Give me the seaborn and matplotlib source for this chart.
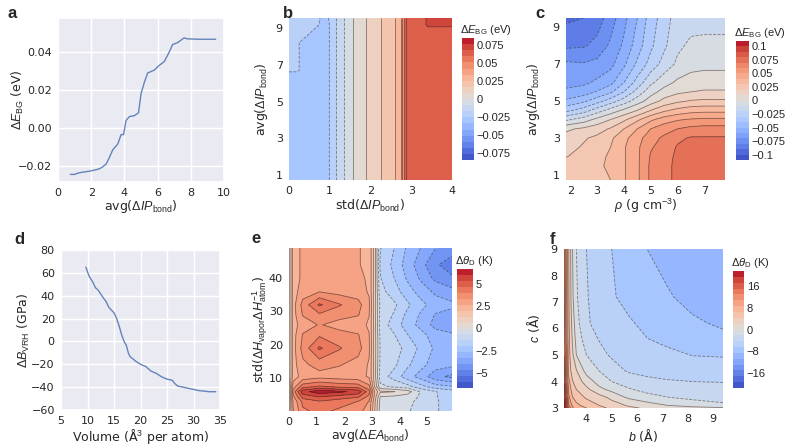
import numpy as np
import matplotlib
matplotlib.use("Agg")
import matplotlib.pyplot as plt
import seaborn as sns

# ---- panel a: line ----
a_x = [0.75, 1.0, 1.2, 1.5, 1.9, 2.3, 2.5, 2.7, 2.9, 3.1, 3.3, 3.6, 3.8, 3.95, 4.1, 4.3,
       4.6, 4.85, 5.0, 5.2, 5.4, 5.8, 6.1, 6.4, 6.7, 6.9, 7.2, 7.6, 7.8, 8.5, 9.5]
a_y = [-0.0245, -0.0245, -0.0238, -0.0233, -0.0228, -0.022, -0.0215, -0.0205, -0.019,
       -0.0155, -0.0115, -0.0085, -0.0035, -0.0035, 0.004, 0.006, 0.0065, 0.008, 0.018,
       0.024, 0.029, 0.0305, 0.033, 0.035, 0.040, 0.044, 0.045, 0.0475, 0.047, 0.0468, 0.0468]

# ---- panel d: line ----
d_x = [9.7, 10.3, 11, 11.5, 12, 13, 13.5, 14, 15, 15.5, 16, 16.5, 17, 17.3, 17.7, 18, 19,
       20, 21, 22, 23, 24, 25, 26, 26.5, 27, 28, 29, 30, 31, 32, 33, 34.2]
d_y = [65, 57, 52, 47, 45, 38, 35, 30, 25, 20, 13, 5, -1, -3, -10, -13, -17, -20, -22, -26,
       -28, -31, -33, -34, -37, -39, -40, -41, -42, -43, -43.5, -44, -44]

# ---- panel b: std(dIP) x avg(dIP) grid ----
b_x = [0, 0.2, 0.45, 0.7, 0.9, 1.07, 1.24, 1.44, 1.72, 2.05, 2.45, 2.72, 2.88, 3.25, 3.4, 4.0]
b_y = [0.73, 6.3, 6.7, 8.2, 8.7, 9.2, 9.55]
b_z = [
    [-0.030, -0.030, -0.030, -0.030, -0.030, -0.021, -0.0126, -0.0042, 0.0042, 0.0126, 0.021, 0.029, 0.062, 0.062, 0.062, 0.062],
    [-0.030, -0.030, -0.030, -0.030, -0.030, -0.021, -0.0126, -0.0042, 0.0042, 0.0126, 0.021, 0.029, 0.062, 0.062, 0.062, 0.062],
    [-0.024, -0.024, -0.030, -0.030, -0.030, -0.021, -0.0126, -0.0042, 0.0042, 0.0126, 0.021, 0.029, 0.062, 0.062, 0.062, 0.062],
    [-0.024, -0.024, -0.030, -0.030, -0.030, -0.021, -0.0126, -0.0042, 0.0042, 0.0126, 0.021, 0.029, 0.062, 0.062, 0.062, 0.062],
    [-0.024, -0.024, -0.024, -0.030, -0.030, -0.021, -0.0126, -0.0042, 0.0042, 0.0126, 0.021, 0.029, 0.062, 0.062, 0.062, 0.062],
    [-0.024, -0.024, -0.024, -0.024, -0.030, -0.021, -0.0126, -0.0042, 0.0042, 0.0126, 0.021, 0.029, 0.062, 0.062, 0.069, 0.069],
    [-0.024, -0.024, -0.024, -0.024, -0.028, -0.021, -0.0126, -0.0042, 0.0042, 0.0126, 0.021, 0.029, 0.062, 0.062, 0.069, 0.069],
]

# ---- panel c: rho x avg(dIP) grid ----
c_x = [1.84, 2.5, 3.0, 3.5, 4.0, 4.5, 5.0, 5.5, 6.0, 6.5, 7.0, 7.77]
c_y = [0.73, 1.5, 2.0, 2.5, 3.0, 3.5, 4.0, 4.5, 5.0, 5.5, 6.0, 7.0, 8.0, 9.5]
c_z = [
    [0.028, 0.028, 0.029, 0.030, 0.039, 0.048, 0.062, 0.066, 0.073, 0.075, 0.075, 0.075],
    [0.026, 0.028, 0.029, 0.031, 0.039, 0.048, 0.062, 0.066, 0.073, 0.075, 0.075, 0.075],
    [0.0195, 0.024, 0.028, 0.031, 0.039, 0.048, 0.061, 0.066, 0.072, 0.075, 0.075, 0.075],
    [0.017, 0.021, 0.025, 0.030, 0.039, 0.048, 0.059, 0.064, 0.071, 0.074, 0.075, 0.075],
    [0.014, 0.019, 0.022, 0.028, 0.037, 0.046, 0.056, 0.062, 0.068, 0.071, 0.071, 0.071],
    [0.008, 0.012, 0.016, 0.021, 0.030, 0.040, 0.050, 0.056, 0.060, 0.063, 0.064, 0.064],
    [-0.012, -0.005, 0.003, 0.010, 0.018, 0.028, 0.038, 0.045, 0.049, 0.051, 0.052, 0.052],
    [-0.033, -0.025, -0.015, -0.006, 0.002, 0.010, 0.020, 0.028, 0.033, 0.036, 0.037, 0.037],
    [-0.048, -0.042, -0.034, -0.025, -0.015, -0.005, 0.005, 0.013, 0.018, 0.021, 0.022, 0.022],
    [-0.058, -0.055, -0.049, -0.042, -0.030, -0.016, -0.004, 0.004, 0.008, 0.010, 0.011, 0.011],
    [-0.063, -0.062, -0.058, -0.053, -0.040, -0.026, -0.012, -0.004, 0.002, 0.005, 0.006, 0.006],
    [-0.068, -0.069, -0.067, -0.063, -0.052, -0.038, -0.026, -0.016, -0.008, -0.004, -0.003, -0.003],
    [-0.082, -0.081, -0.077, -0.068, -0.058, -0.045, -0.032, -0.022, -0.012, -0.008, -0.008, -0.008],
    [-0.092, -0.090, -0.085, -0.075, -0.063, -0.050, -0.035, -0.025, -0.015, -0.014, -0.013, -0.013],
]

# ---- panel e: avg(dEA) x std(dH) grid ----
e_x = [0, 0.15, 0.5, 1.1, 1.8, 2.5, 2.9, 3.1, 3.3, 3.8, 4.3, 4.8, 5.3, 5.9]
e_y = [0.2, 3, 4.5, 6, 7.5, 10.5, 14, 19, 23, 26, 29, 32, 36, 40, 44, 49]
e_z = [
    [0.3, 2.6, 3.9, 4.2, 3.9, 3.6, 3.0, 1.4, -0.3, -0.4, -0.6, -1.0, -1.3, -1.5],
    [0.3, 2.8, 4.2, 4.6, 4.3, 4.0, 3.3, 1.5, -0.2, -0.3, -0.5, -0.9, -1.3, -1.5],
    [0.4, 3.2, 5.0, 5.4, 5.1, 4.8, 3.8, 1.8, 0.0, -0.1, -0.3, -0.8, -1.3, -1.6],
    [0.5, 3.6, 5.8, 6.4, 6.2, 5.8, 4.3, 2.0, 0.8, 0.7, 0.3, -0.8, -1.3, -1.7],
    [0.4, 3.0, 4.4, 4.8, 4.5, 4.4, 3.5, 1.3, -0.5, -0.8, -1.1, -1.8, -2.4, -2.6],
    [0.3, 2.4, 2.9, 3.1, 3.0, 2.9, 2.6, 1.0, -1.0, -1.6, -2.4, -3.0, -3.8, -4.2],
    [0.3, 2.4, 3.2, 3.6, 3.4, 3.1, 2.6, 1.0, -0.8, -1.2, -1.9, -2.5, -3.0, -3.2],
    [0.3, 2.4, 3.6, 4.8, 4.1, 3.6, 2.8, 1.0, -0.7, -1.0, -1.6, -2.2, -2.8, -3.0],
    [0.3, 2.4, 3.4, 3.9, 3.6, 3.4, 2.7, 1.0, -0.8, -1.3, -2.0, -2.5, -3.0, -3.2],
    [0.3, 2.4, 3.0, 3.4, 3.1, 2.9, 2.6, 1.0, -1.0, -1.6, -2.4, -2.9, -3.6, -4.0],
    [0.3, 2.4, 3.4, 3.9, 3.6, 3.4, 2.7, 1.0, -0.9, -1.4, -2.2, -2.8, -3.4, -3.6],
    [0.3, 2.4, 3.6, 4.8, 4.1, 3.6, 2.8, 1.0, -0.8, -1.2, -1.9, -2.5, -3.0, -3.2],
    [0.3, 2.4, 3.0, 3.3, 3.1, 3.0, 2.6, 1.0, -1.1, -1.7, -2.4, -3.0, -3.5, -3.8],
    [0.3, 2.4, 2.8, 2.9, 2.8, 2.8, 2.6, 1.0, -1.3, -2.0, -2.8, -3.5, -4.2, -4.6],
    [0.3, 2.4, 2.8, 3.0, 2.8, 2.7, 2.6, 1.0, -1.4, -2.2, -3.0, -3.8, -4.6, -5.0],
    [0.3, 2.4, 2.8, 2.9, 2.8, 2.7, 2.6, 1.0, -1.3, -2.0, -2.8, -3.4, -4.0, -4.4],
]

# ---- panel f: b x c grid ----
f_x = [3.11, 3.2, 3.3, 3.45, 3.6, 4.0, 4.5, 5.0, 5.7, 6.4, 7.2, 8.2, 9.41]
f_y = [3.0, 3.1, 3.2, 3.4, 3.7, 4.0, 4.4, 5.0, 5.6, 6.2, 7.2, 9.0]
f_z = [
    [21, 17, 12, 9, 7.5, 6.45, 5.0, 3.8, 2.6, 1.8, 1.0, 0.5, 0.2],
    [20.5, 16, 11, 8, 7, 5.5, 4.3, 3.2, 1.8, 0.8, 0.0, -0.6, -1.0],
    [20, 15.5, 10, 7.5, 6.5, 5.0, 3.8, 2.6, 1.4, 0.2, -0.9, -1.7, -2.15],
    [19, 14.5, 9, 6.5, 5.5, 4.0, 3.0, 1.6, -0.5, -1.5, -2.1, -2.5, -2.8],
    [18, 13, 8, 5.2, 4.3, 2.7, 0.6, -0.6, -2.0, -2.7, -3.1, -3.4, -3.6],
    [17, 12, 7, 4.4, 3.3, 1.2, -0.9, -2.15, -3.0, -3.7, -4.1, -4.3, -4.4],
    [16, 11, 5.5, 3.2, 2.3, -0.8, -2.15, -3.3, -4.6, -5.0, -5.2, -5.4, -5.5],
    [15, 10.5, 5.0, 2.5, 0.0, -2.15, -3.6, -4.6, -5.2, -5.7, -6.0, -6.5, -6.6],
    [14.5, 10, 4.8, 1.8, -0.8, -3.2, -4.4, -5.0, -5.8, -6.4, -6.9, -7.6, -8.1],
    [14, 9.6, 4.6, 1.2, -1.4, -4.0, -5.0, -5.6, -6.2, -7.0, -7.6, -8.3, -8.9],
    [13.5, 9.3, 4.5, 0.3, -1.9, -4.1, -5.5, -6.2, -7.2, -7.8, -8.4, -9.2, -9.7],
    [13, 8.5, 4.3, 0.0, -2.15, -4.3, -5.4, -6.45, -7.6, -8.6, -9.3, -9.9, -10.2],
]

W, H = 788, 447
TICK = 8
LABEL = 9

sns.set_theme(style="darkgrid", rc={"xtick.labelsize": TICK, "ytick.labelsize": TICK,
                                     "axes.labelsize": LABEL})
plt.rcParams["font.family"] = ["Liberation Sans", "DejaVu Sans"]
plt.rcParams["mathtext.fontset"] = "custom"
plt.rcParams["mathtext.rm"] = "Liberation Sans"
plt.rcParams["mathtext.it"] = "Liberation Sans:italic"
plt.rcParams["mathtext.bf"] = "Liberation Sans:bold"

fig = plt.figure(figsize=(W / 100, H / 100), dpi=100)


def rect(l, t, r, b):
    return [l / W, 1 - b / H, (r - l) / W, (b - t) / H]


def fmt(v):
    return f"{v:g}".replace("-", "\u2212")


def place_labels(ax, box, xlab, ylab, ylab_x, xlab_y):
    # label centres given in figure pixels
    l, t, r, b = box
    ax.set_xlabel(xlab, va="center")
    ax.set_ylabel(ylab, va="center")
    ax.xaxis.set_label_coords(0.5, 1 - (xlab_y - t) / (b - t))
    ax.yaxis.set_label_coords((ylab_x - l) / (r - l), 0.5)


def line_panel(box, x, y):
    with sns.axes_style("darkgrid"):
        ax = fig.add_axes(rect(*box))
    sns.lineplot(x=x, y=y, ax=ax, color="#4C72B0", lw=1, alpha=0.85)
    ax.tick_params(length=0, pad=4.5)
    return ax


def contour_panel(box, cbox, x, y, z, levels, ticks, title):
    with sns.axes_style("white"):
        ax = fig.add_axes(rect(*box))
    X, Y = np.meshgrid(x, y)
    Z = np.array(z)
    cs = ax.contourf(X, Y, Z, levels=levels, cmap="coolwarm",
                     vmin=levels[0], vmax=levels[-1])
    ax.contour(X, Y, Z, levels=levels, colors="k", linewidths=0.6, alpha=0.5)
    for s in ax.spines.values():
        s.set_visible(False)
    ax.tick_params(length=0, pad=4.5)
    cax = fig.add_axes(rect(*cbox))
    cb = fig.colorbar(cs, cax=cax)
    cb.outline.set_visible(False)
    cb.set_ticks(ticks, labels=[fmt(t) for t in ticks])
    cax.tick_params(length=0, pad=2, labelsize=TICK)
    fig.text((cbox[0] - 2) / W, 1 - (cbox[1] - 1) / H, title, ha="left", va="bottom",
             fontsize=TICK)
    return ax


# a
box_a = (58, 18, 224, 182)
ax = line_panel(box_a, a_x, a_y)
ax.set_xlim(0, 10)
ax.set_xticks([0, 2, 4, 6, 8, 10])
ax.set_ylim(-0.0285, 0.058)
ax.set_yticks([-0.02, 0.0, 0.02, 0.04])
place_labels(ax, box_a, r"avg($\Delta IP_{\rm bond}$)", r"$\Delta E_{\rm BG}$ (eV)", 18, 207)

# d
box_d = (61, 250, 220, 410)
ax = line_panel(box_d, d_x, d_y)
ax.set_xlim(5, 35)
ax.set_xticks(range(5, 36, 5))
ax.set_ylim(-60, 80)
ax.set_yticks(range(-60, 81, 20))
place_labels(ax, box_d, "Volume (Å$^3$ per atom)", r"$\Delta B_{\rm VRH}$ (GPa)", 24, 437)

# b
box_b = (289, 18, 452, 180)
b_levels = np.round(np.linspace(-0.084, 0.084, 21), 6)
ax = contour_panel(box_b, (462, 38, 474, 160), b_x, b_y, b_z, b_levels,
                   [-0.075, -0.05, -0.025, 0, 0.025, 0.05, 0.075],
                   r"$\Delta E_{\rm BG}$ (eV)")
ax.set_xticks([0, 1, 2, 3, 4])
ax.set_yticks([1, 3, 5, 7, 9])
place_labels(ax, box_b, r"std($\Delta IP_{\rm bond}$)", r"avg($\Delta IP_{\rm bond}$)", 262, 206)

# c
box_c = (566, 18, 725, 180)
c_levels = np.round(np.linspace(-0.11, 0.11, 23), 6)
ax = contour_panel(box_c, (736, 41, 749, 160), c_x, c_y, c_z, c_levels,
                   [-0.1, -0.075, -0.05, -0.025, 0, 0.025, 0.05, 0.075, 0.1],
                   r"$\Delta E_{\rm BG}$ (eV)")
ax.set_xticks([2, 3, 4, 5, 6, 7])
ax.set_yticks([1, 3, 5, 7, 9])
place_labels(ax, box_c, r"$\rho$ (g cm$^{-3}$)", r"avg($\Delta IP_{\rm bond}$)", 534, 206)

# e
box_e = (289, 248, 452, 411)
e_levels = np.round(np.linspace(-6.7, 6.7, 21), 6)
ax = contour_panel(box_e, (457, 269, 473, 388), e_x, e_y, e_z, e_levels,
                   [-5, -2.5, 0, 2.5, 5], r"$\Delta\theta_{\rm D}$ (K)")
ax.set_xticks([0, 1, 2, 3, 4, 5])
ax.set_yticks([10, 20, 30, 40])
place_labels(ax, box_e, r"avg($\Delta EA_{\rm bond}$)",
             r"std($\Delta H_{\rm vapor}\Delta H_{\rm atom}^{-1}$)", 260, 436)

# f
box_f = (564, 249, 723, 408)
f_levels = np.round(np.linspace(-21.5, 21.5, 21), 6)
ax = contour_panel(box_f, (733, 271, 744, 388), f_x, f_y, f_z, f_levels,
                   [-16, -8, 0, 8, 16], r"$\Delta\theta_{\rm D}$ (K)")
ax.set_xticks([4, 5, 6, 7, 8, 9])
ax.set_yticks([3, 4, 5, 6, 7, 8, 9])
place_labels(ax, box_f, r"$b$ (Å)", r"$c$ (Å)", 534, 436)

for letter, px, py in [("a", 12, 13), ("b", 288, 13), ("c", 540, 13),
                       ("d", 19, 240), ("e", 256, 238), ("f", 552, 239)]:
    fig.text(px / W, 1 - py / H, letter, fontsize=12, fontweight="bold",
             ha="center", va="center")

fig.savefig("out.png", dpi=100)
